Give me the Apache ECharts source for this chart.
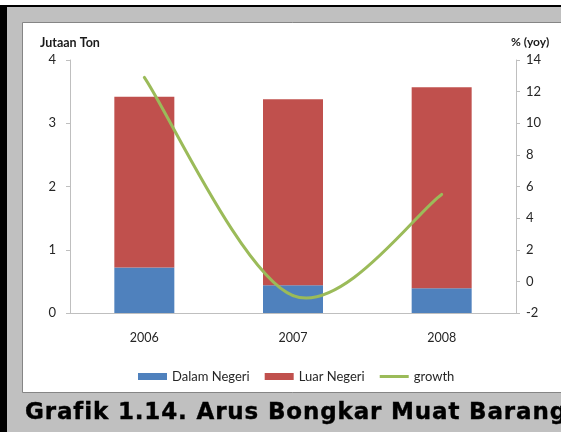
<!DOCTYPE html>
<html>
<head>
<meta charset="utf-8">
<script src="https://cdn.jsdelivr.net/npm/echarts@6/dist/echarts.min.js"></script>
<style>
  html, body { margin: 0; padding: 0; background: #ffffff; }
  #wrap { position: relative; width: 561px; height: 432px; overflow: hidden; }
  #chart { width: 561px; height: 432px; }
  #caption {
    position: absolute; left: 25px; top: 398px; height: 27px; line-height: 27px;
    font: bold 23px "DejaVu Sans", sans-serif; letter-spacing: 0.85px;
    -webkit-text-stroke: 0.4px #000000;
    color: #000000; white-space: nowrap;
  }
</style>
</head>
<body>
<div id="wrap">
  <div id="chart"></div>
  <div id="caption">Grafik 1.14. Arus Bongkar Muat Barang</div>
</div>
<script>
// Annual loading/unloading volumes (million tonnes) and year-on-year growth
const years = ['2006', '2007', '2008'];
const dalamNegeri = [0.72, 0.44, 0.39];
const luarNegeri = [2.70, 2.94, 3.18];
const growth = [12.9, -0.9, 5.5];

const labelFont = 'Lato';
const growthData = years.map((y, i) => [i, growth[i]]);

// Cardinal-spline segment between point i and i+1 (ends use the point itself as neighbour)
function renderGrowthSegment(params, api) {
  const i = params.dataIndexInside;
  const n = params.dataInsideLength;
  if (i >= n - 1) return null;
  const pt = (k) => {
    const j = Math.max(0, Math.min(n - 1, k));
    return api.coord([api.value(0, j), api.value(1, j)]);
  };
  const p0 = pt(i - 1), p1 = pt(i), p2 = pt(i + 1), p3 = pt(i + 2);
  const t = 1 / 6;
  return {
    type: 'bezierCurve',
    shape: {
      x1: p1[0], y1: p1[1],
      cpx1: p1[0] + (p2[0] - p0[0]) * t, cpy1: p1[1] + (p2[1] - p0[1]) * t,
      cpx2: p2[0] - (p3[0] - p1[0]) * t, cpy2: p2[1] - (p3[1] - p1[1]) * t,
      x2: p2[0], y2: p2[1]
    },
    style: { fill: null, stroke: '#9bbb59', lineWidth: 3, lineCap: 'round' }
  };
}

const chart = echarts.init(document.getElementById('chart'), null, { renderer: 'canvas' });

chart.setOption({
  backgroundColor: '#ffffff',
  animation: false,
  graphic: [
    // grey frame, panel and black edges
    { type: 'rect', z: -10, silent: true, shape: { x: 0, y: 5, width: 561, height: 427 }, style: { fill: '#c0c0c0' } },
    { type: 'rect', z: -9, silent: true, shape: { x: 22.5, y: 22.5, width: 560, height: 370 }, style: { fill: '#ffffff', stroke: '#858585', lineWidth: 1 } },
    { type: 'rect', z: -8, silent: true, shape: { x: 0, y: 5, width: 561, height: 2 }, style: { fill: '#000000' } },
    { type: 'rect', z: -8, silent: true, shape: { x: 0, y: 5, width: 7, height: 427 }, style: { fill: '#000000' } },
    { type: 'text', left: 40, top: 36, style: { text: 'Jutaan Ton', font: 'bold 12.5px Lato', fill: '#1a1a1a' } },
    { type: 'text', left: 511, top: 36, style: { text: '% (yoy)', font: 'bold 12px Lato', fill: '#1a1a1a' } }
  ],
  grid: { left: 70, right: 45, top: 60, bottom: 119, containLabel: false },
  legend: {
    left: 133,
    top: 365,
    itemWidth: 29,
    itemHeight: 7,
    itemGap: 15,
    symbolKeepAspect: true,
    textStyle: { fontFamily: labelFont, fontSize: 13, color: '#262626' },
    data: [
      { name: 'Dalam Negeri', icon: 'rect' },
      { name: 'Luar Negeri', icon: 'rect' },
      { name: 'growth', icon: 'path://M0,0H29V3H0Z', itemStyle: { color: '#9bbb59' } }
    ]
  },
  xAxis: {
    type: 'category',
    data: years,
    axisLine: { lineStyle: { color: '#bfbfbf', width: 1 } },
    axisTick: { show: false },
    axisLabel: { margin: 18, fontFamily: labelFont, fontSize: 12.5, color: '#262626' }
  },
  yAxis: [
    {
      type: 'value', min: 0, max: 4, interval: 1,
      axisLine: { show: true, lineStyle: { color: '#bfbfbf' } },
      axisTick: { show: true, length: 4, lineStyle: { color: '#bfbfbf' } },
      splitLine: { show: false },
      axisLabel: { margin: 14, fontFamily: labelFont, fontSize: 13, color: '#262626' }
    },
    {
      type: 'value', min: -2, max: 14, interval: 2,
      position: 'right',
      axisLine: { show: true, lineStyle: { color: '#bfbfbf' } },
      axisTick: { show: true, length: 4, lineStyle: { color: '#bfbfbf' } },
      splitLine: { show: false },
      axisLabel: { margin: 10, fontFamily: labelFont, fontSize: 13, color: '#262626' }
    }
  ],
  series: [
    {
      name: 'Dalam Negeri', type: 'bar', stack: 'total', yAxisIndex: 0,
      barWidth: 60,
      itemStyle: { color: '#4f81bd' },
      data: dalamNegeri
    },
    {
      name: 'Luar Negeri', type: 'bar', stack: 'total', yAxisIndex: 0,
      barWidth: 60,
      itemStyle: { color: '#c0504d' },
      data: luarNegeri
    },
    {
      name: 'growth', type: 'custom', yAxisIndex: 1,
      renderItem: renderGrowthSegment,
      itemStyle: { color: '#9bbb59' },
      encode: { x: 0, y: 1 },
      data: growthData,
      z: 3
    }
  ]
});
</script>
</body>
</html>
